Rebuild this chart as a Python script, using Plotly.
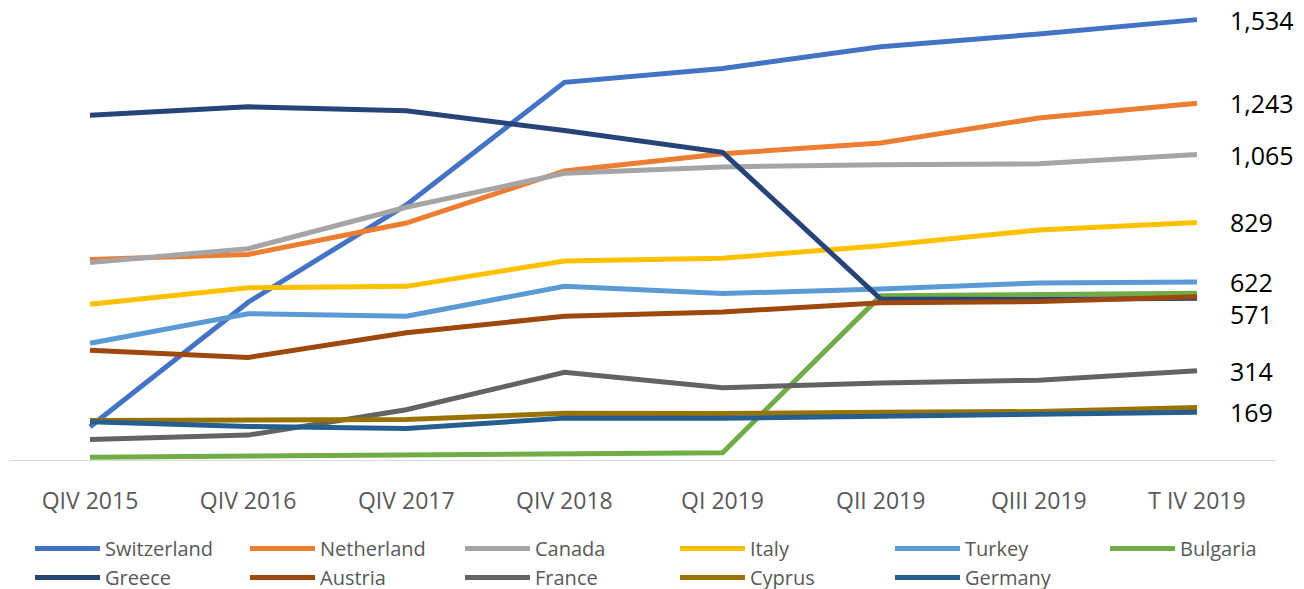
import plotly.graph_objects as go

quarters = ["QIV 2015", "QIV 2016", "QIV 2017", "QIV 2018", "QI 2019", "QII 2019", "QIII 2019", "T IV 2019"]

switzerland = [119, 552, 890, 1316, 1364, 1440, 1484, 1534]
netherland = [700, 718, 827, 1008, 1068, 1105, 1192, 1243]
canada = [690, 738, 882, 1000, 1022, 1030, 1033, 1065]
italy = [545, 602, 607, 695, 705, 748, 803, 829]
turkey = [409, 512, 503, 607, 582, 598, 619, 622]
bulgaria = [13, 16, 20, 24, 29, 574, 577, 583]
greece = [1202, 1231, 1217, 1149, 1073, 563, 561, 566]
austria = [385, 360, 446, 503, 518, 550, 554, 571]
france = [75, 90, 178, 308, 255, 271, 281, 314]
cyprus = [141, 142, 144, 166, 165, 169, 172, 186]
germany = [136, 120, 113, 149, 149, 155, 162, 169]

series_names = ["Switzerland", "Netherland", "Canada", "Italy", "Turkey", "Bulgaria",
                "Greece", "Austria", "France", "Cyprus", "Germany"]
series_values = [switzerland, netherland, canada, italy, turkey, bulgaria,
                 greece, austria, france, cyprus, germany]
series_colors = ["#4472C4", "#ED7D31", "#A5A5A5", "#FFC000", "#5B9BD5", "#70AD47",
                 "#264478", "#9E480E", "#636363", "#997300", "#255E91"]

end_labels = [1534, 1243, 1065, 829, 622, 571, 314, 169]
end_label_text = ["1,534", "1,243", "1,065", "829", "622", "571", "314", "169"]
end_label_yshift = [0, 0, 0, 0, 0, -17, 0, 0]

W, H = 1296, 581  # page body adds 8px offset

fig = go.Figure()
for name, vals, col in zip(series_names, series_values, series_colors):
    fig.add_trace(go.Scatter(
        x=quarters, y=vals, mode="lines", name=name,
        line=dict(color=col, width=5),
        hoverinfo="x+y+name",
    ))

for v, t, ys in zip(end_labels, end_label_text, end_label_yshift):
    fig.add_annotation(
        x=quarters[-1], y=v, text=t, showarrow=False,
        xanchor="left", yanchor="middle", xshift=31, yshift=ys,
        font=dict(family="Open Sans", size=25, color="#000000"),
    )

# light baseline under the plot
fig.add_shape(type="line", xref="paper", yref="y",
              x0=2 / W, x1=1268 / W, y0=0, y1=0,
              line=dict(color="#D9D9D9", width=2), layer="below")

fig.update_layout(
    width=W, height=H,
    margin=dict(l=0, r=0, t=3, b=128),
    paper_bgcolor="white", plot_bgcolor="white",
    showlegend=True,
    legend=dict(
        orientation="h", xref="container", yref="container",
        x=22 / W, xanchor="left", y=1 - 521 / H, yanchor="top",
        font=dict(family="Open Sans", size=20, color="#595959"),
        entrywidth=135, entrywidthmode="pixels",
        itemwidth=65, tracegroupgap=0,
        bgcolor="rgba(0,0,0,0)",
    ),
    xaxis=dict(
        type="category", range=[-82 / 158.14, (W - 82) / 158.14],
        showgrid=False, zeroline=False, showline=False,
        ticks="", ticklabelstandoff=24,
        tickfont=dict(family="Open Sans", size=23, color="#595959"),
    ),
    yaxis=dict(
        range=[0, 1564], visible=False, showgrid=False, zeroline=False,
    ),
)

fig.write_html("out.html")
